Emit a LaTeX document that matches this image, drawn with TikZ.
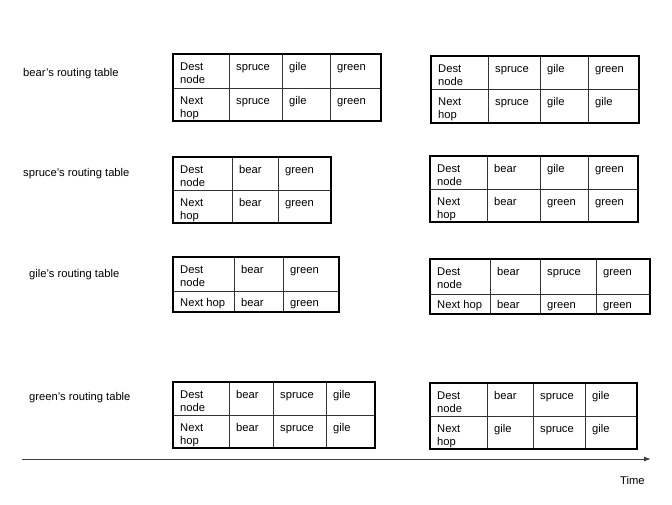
\documentclass[tikz,border=0pt]{standalone}
\usepackage{fontspec}
\setmainfont{Liberation Sans}
\usetikzlibrary{arrows.meta}
\newcommand\twolines[2]{\begin{tabular}[t]{@{}l@{}}#1\\#2\end{tabular}}
\begin{document}
\begin{tikzpicture}[x=1pt,y=-1pt,
  txt/.style={anchor=base west, inner sep=0pt, font=\fontsize{11.2}{13}\selectfont},
  outerbox/.style={line width=1.8pt, black},
  innerline/.style={line width=0.8pt, black!80},
  timeaxis/.style={line width=1pt, black!75, -{Latex[length=7pt,width=5pt]}}]
\useasboundingbox (0,0) rectangle (672,504);

% labels
\node[txt] (lbear) at (23,76) {bear's routing table};
\node[txt] (lspruce) at (23,176) {spruce's routing table};
\node[txt] (lgile) at (29,277) {gile's routing table};
\node[txt] (lgreen) at (29,400) {green's routing table};

% ---- bear t1
\draw[innerline] (229,54)--(229,121) (282,54)--(282,121) (330,54)--(330,121) (173,88)--(381,88);
\draw[outerbox] (173,54) rectangle (381,121);
\node[txt] (b1h1) at (180,70) {\twolines{Dest}{node}};
\node[txt] (b1a1) at (236,70) {spruce};
\node[txt] (b1b1) at (289,70) {gile};
\node[txt] (b1c1) at (337,70) {green};
\node[txt] (b1h2) at (180,104) {\twolines{Next}{hop}};
\node[txt] (b1a2) at (236,104) {spruce};
\node[txt] (b1b2) at (289,104) {gile};
\node[txt] (b1c2) at (337,104) {green};

% ---- bear t2
\draw[innerline] (488,56)--(488,123) (540,56)--(540,123) (588,56)--(588,123) (431,89)--(639,89);
\draw[outerbox] (431,56) rectangle (639,123);
\node[txt] (b2h1) at (438,72) {\twolines{Dest}{node}};
\node[txt] (b2a1) at (495,72) {spruce};
\node[txt] (b2b1) at (547,72) {gile};
\node[txt] (b2c1) at (595,72) {green};
\node[txt] (b2h2) at (438,105) {\twolines{Next}{hop}};
\node[txt] (b2a2) at (495,105) {spruce};
\node[txt] (b2b2) at (547,105) {gile};
\node[txt] (b2c2) at (595,105) {gile};

% ---- spruce t1
\draw[innerline] (232,157)--(232,223) (278,157)--(278,223) (173,190)--(331,190);
\draw[outerbox] (173,157) rectangle (331,223);
\node[txt] (s1h1) at (180,173) {\twolines{Dest}{node}};
\node[txt] (s1a1) at (239,173) {bear};
\node[txt] (s1b1) at (285,173) {green};
\node[txt] (s1h2) at (180,206) {\twolines{Next}{hop}};
\node[txt] (s1a2) at (239,206) {bear};
\node[txt] (s1b2) at (285,206) {green};

% ---- spruce t2
\draw[innerline] (487,156)--(487,222) (540,156)--(540,222) (588,156)--(588,222) (430,189)--(638,189);
\draw[outerbox] (430,156) rectangle (638,222);
\node[txt] (s2h1) at (437,172) {\twolines{Dest}{node}};
\node[txt] (s2a1) at (494,172) {bear};
\node[txt] (s2b1) at (547,172) {gile};
\node[txt] (s2c1) at (595,172) {green};
\node[txt] (s2h2) at (437,205) {\twolines{Next}{hop}};
\node[txt] (s2a2) at (494,205) {bear};
\node[txt] (s2b2) at (547,205) {green};
\node[txt] (s2c2) at (595,205) {green};

% ---- gile t1
\draw[innerline] (234,257)--(234,312) (283,257)--(283,312) (173,291)--(339,291);
\draw[outerbox] (173,257) rectangle (339,312);
\node[txt] (g1h1) at (180,273) {\twolines{Dest}{node}};
\node[txt] (g1a1) at (241,273) {bear};
\node[txt] (g1b1) at (290,273) {green};
\node[txt] (g1h2) at (180,306) {Next hop};
\node[txt] (g1a2) at (241,306) {bear};
\node[txt] (g1b2) at (290,306) {green};

% ---- gile t2
\draw[innerline] (490,259)--(490,314) (540,259)--(540,314) (596,259)--(596,314) (430,294)--(650,294);
\draw[outerbox] (430,259) rectangle (650,314);
\node[txt] (g2h1) at (437,275) {\twolines{Dest}{node}};
\node[txt] (g2a1) at (497,275) {bear};
\node[txt] (g2b1) at (547,275) {spruce};
\node[txt] (g2c1) at (603,275) {green};
\node[txt] (g2h2) at (437,308) {Next hop};
\node[txt] (g2a2) at (497,308) {bear};
\node[txt] (g2b2) at (547,308) {green};
\node[txt] (g2c2) at (603,308) {green};

% ---- green t1
\draw[innerline] (229,382)--(229,448) (273,382)--(273,448) (326,382)--(326,448) (173,415)--(375,415);
\draw[outerbox] (173,382) rectangle (375,448);
\node[txt] (n1h1) at (180,398) {\twolines{Dest}{node}};
\node[txt] (n1a1) at (236,398) {bear};
\node[txt] (n1b1) at (280,398) {spruce};
\node[txt] (n1c1) at (333,398) {gile};
\node[txt] (n1h2) at (180,431) {\twolines{Next}{hop}};
\node[txt] (n1a2) at (236,431) {bear};
\node[txt] (n1b2) at (280,431) {spruce};
\node[txt] (n1c2) at (333,431) {gile};

% ---- green t2
\draw[innerline] (487,383)--(487,449) (533,383)--(533,449) (585,383)--(585,449) (430,416)--(637,416);
\draw[outerbox] (430,383) rectangle (637,449);
\node[txt] (n2h1) at (437,399) {\twolines{Dest}{node}};
\node[txt] (n2a1) at (494,399) {bear};
\node[txt] (n2b1) at (540,399) {spruce};
\node[txt] (n2c1) at (592,399) {gile};
\node[txt] (n2h2) at (437,432) {\twolines{Next}{hop}};
\node[txt] (n2a2) at (494,432) {gile};
\node[txt] (n2b2) at (540,432) {spruce};
\node[txt] (n2c2) at (592,432) {gile};

% ---- time axis
\coordinate (tstart) at (22,459);
\coordinate (tend) at (651,459);
\draw[timeaxis] (tstart) -- (tend);
\node[txt] (time) at (620,484) {Time};
\end{tikzpicture}
\end{document}
